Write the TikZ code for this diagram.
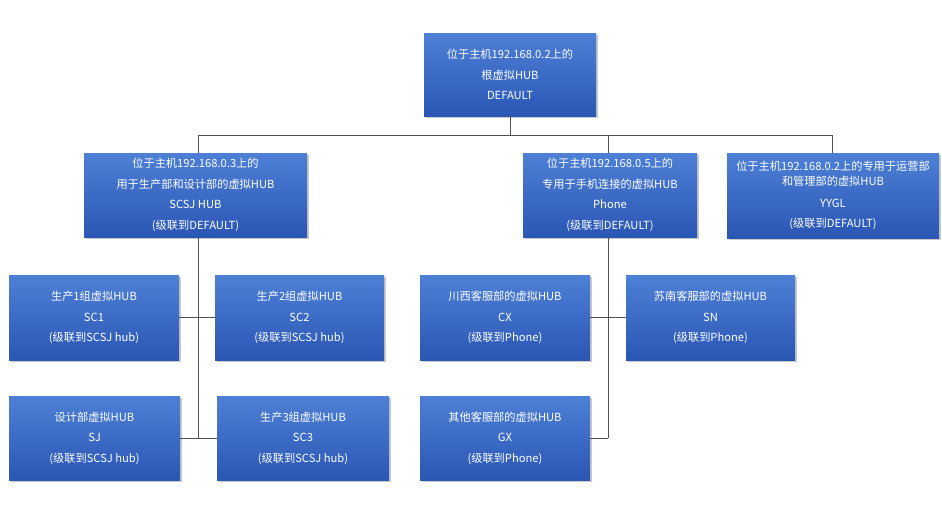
\documentclass[tikz,border=0pt]{standalone}
\usepackage{fontspec}
\setmainfont{Noto Sans CJK SC}
\usetikzlibrary{shadows}
\definecolor{hubtop}{RGB}{78,128,214}
\definecolor{hubbot}{RGB}{42,86,180}
\definecolor{linegray}{RGB}{80,80,80}
\tikzset{
  hub/.style={rectangle, top color=hubtop, bottom color=hubbot, draw=none,
    text=white, align=center, inner sep=0pt,
    font=\fontsize{11.2}{20.5}\selectfont,
    drop shadow={shadow xshift=1.5pt, shadow yshift=-1.5pt, opacity=0.35, fill=black!60}},
  wire/.style={draw=linegray, line width=0.8pt}
}
\begin{document}
\begin{tikzpicture}[x=1pt,y=-1pt]
\useasboundingbox[fill=white] (0,0) rectangle (942,515);
% boxes
\node[hub, minimum width=172pt, minimum height=83pt] (root) at (510,74.5)
  {位于主机192.168.0.2上的\\根虚拟HUB\\DEFAULT};
\node[hub, minimum width=223pt, minimum height=84pt] (scsj) at (195.5,195)
  {位于主机192.168.0.3上的\\用于生产部和设计部的虚拟HUB\\SCSJ HUB\\(级联到DEFAULT)};
\node[hub, minimum width=174pt, minimum height=84pt] (phone) at (610,195)
  {位于主机192.168.0.5上的\\专用于手机连接的虚拟HUB\\Phone\\(级联到DEFAULT)};
\node[hub, minimum width=212pt, minimum height=85pt] (yygl) at (833,195.5)
  {位于主机192.168.0.2上的专用于运营部\\[-5.5pt]和管理部的虚拟HUB\\[1.5pt]YYGL\\(级联到DEFAULT)};
\node[hub, minimum width=170pt, minimum height=85pt] (sc1) at (94,317.5)
  {生产1组虚拟HUB\\SC1\\(级联到SCSJ hub)};
\node[hub, minimum width=169pt, minimum height=85pt] (sc2) at (299.5,317.5)
  {生产2组虚拟HUB\\SC2\\(级联到SCSJ hub)};
\node[hub, minimum width=170pt, minimum height=85pt] (cx) at (505,317.5)
  {川西客服部的虚拟HUB\\CX\\(级联到Phone)};
\node[hub, minimum width=169pt, minimum height=85pt] (sn) at (710.5,317.5)
  {苏南客服部的虚拟HUB\\SN\\(级联到Phone)};
\node[hub, minimum width=171pt, minimum height=84pt] (sj) at (94.5,438)
  {设计部虚拟HUB\\SJ\\(级联到SCSJ hub)};
\node[hub, minimum width=172pt, minimum height=84pt] (sc3) at (303,438)
  {生产3组虚拟HUB\\SC3\\(级联到SCSJ hub)};
\node[hub, minimum width=170pt, minimum height=84pt] (gx) at (505,438)
  {其他客服部的虚拟HUB\\GX\\(级联到Phone)};
% bus coordinates
\coordinate (b0) at (510,135);
\coordinate (bL) at (198,135);
\coordinate (bP) at (608,135);
\coordinate (bR) at (832,135);
\coordinate (tL) at (198,438);
\coordinate (tP) at (608,438);
% connectors
\draw[wire] (root.south) -- (b0);
\draw[wire] (bL) -- (bR);
\draw[wire] (bL) -- (bL |- scsj.north);
\draw[wire] (bP) -- (bP |- phone.north);
\draw[wire] (bR) -- (bR |- yygl.north);
\draw[wire] (bL |- scsj.south) -- (tL);
\draw[wire] (bP |- phone.south) -- (tP);
\draw[wire] (sc1.east) -- (sc2.west);
\draw[wire] (sj.east) -- (sc3.west);
\draw[wire] (cx.east) -- (sn.west);
\draw[wire] (gx.east) -- (tP);
\end{tikzpicture}
\end{document}
